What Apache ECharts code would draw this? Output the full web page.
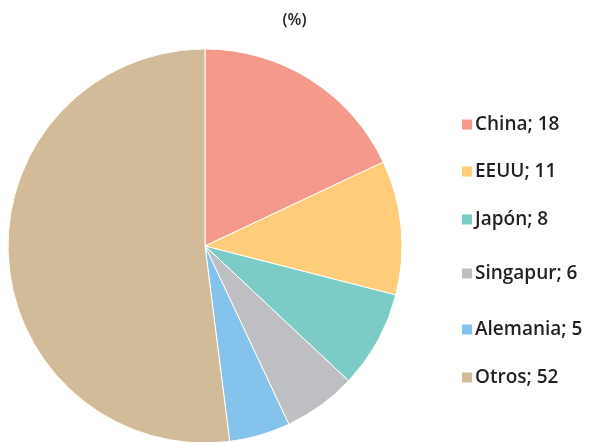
<!DOCTYPE html>
<html lang="es">
<head>
    <meta charset="UTF-8">
    <title>(%)</title>
    <style>
        html, body { margin: 0; padding: 0; background: #fff; }
    </style>
</head>
<body>
    <div id="main" style="width: 589px;height:442px;"></div>
    <script src="https://cdn.jsdelivr.net/npm/echarts@6/dist/echarts.min.js"></script>
<script type="text/javascript">
    // datos del gráfico
    var paises = ['China', 'EEUU', 'Japón', 'Singapur', 'Alemania', 'Otros'];
    var valores = [18, 11, 8, 6, 5, 52];
    var colores = ['#F5998A', '#FFCC7A', '#7BCCC7', '#BEBFC2', '#84C3EC', '#D2BB99'];
    var legendaY = [126, 173, 221, 275, 331, 379];

    var myChart = echarts.init(document.getElementById('main'));

    var datos = [];
    for (var i = 0; i < paises.length; i++) {
        datos.push({ value: valores[i], name: paises[i] });
    }

    // una leyenda por elemento, para colocarlas como en la imagen
    var leyendas = [];
    for (var j = 0; j < paises.length; j++) {
        leyendas.push({
            data: [paises[j]],
            left: 460,
            top: legendaY[j] - 11,
            orient: 'vertical',
            icon: 'rect',
            itemWidth: 12,
            itemHeight: 12,
            itemGap: 0,
            padding: 0,
            textStyle: {
                fontFamily: 'Open Sans',
                fontSize: 19,
                fontWeight: 600,
                color: '#231F20',
                padding: [0, 0, 0, -3]
            },
            formatter: function (name) {
                return name + '; ' + valores[paises.indexOf(name)];
            }
        });
    }

    myChart.setOption({
        color: colores,
        animation: false,
        title: {
            text: '(%)',
            left: 'center',
            top: 7,
            textStyle: {
                fontFamily: 'Open Sans',
                fontSize: 16,
                fontWeight: 600,
                color: '#231F20'
            }
        },
        legend: leyendas,
        series: [
            {
                name: 'países',
                type: 'pie',
                center: [205, 246],
                radius: 197,
                startAngle: 90,
                clockwise: true,
                label: { show: false },
                labelLine: { show: false },
                itemStyle: { borderColor: '#fff', borderWidth: 1 },
                emphasis: { disabled: true },
                data: datos
            }
        ]
    });
</script>
</body>
</html>
